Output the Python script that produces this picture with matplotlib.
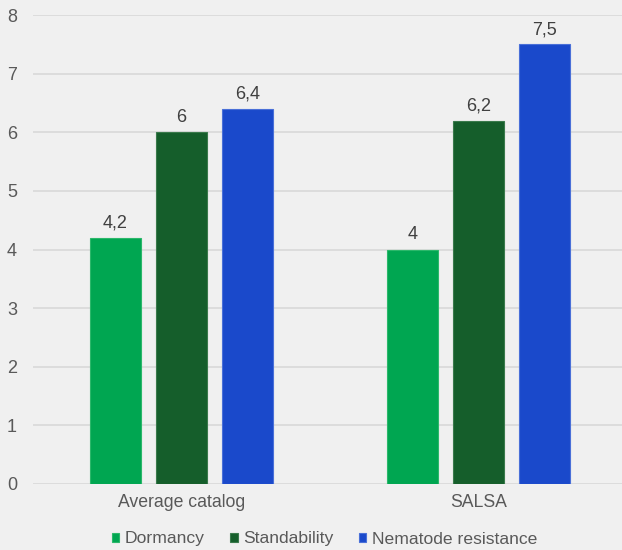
import matplotlib
matplotlib.use("Agg")
import matplotlib.pyplot as plt
import numpy as np

categories = ["Average catalog", "SALSA"]
series = ["Dormancy", "Standability", "Nematode resistance"]
dormancy = [4.2, 4.0]
standability = [6.0, 6.2]
nematode = [6.4, 7.5]
labels = [["4,2", "4"], ["6", "6,2"], ["6,4", "7,5"]]
yticks = [0, 1, 2, 3, 4, 5, 6, 7, 8]

colors = ["#00a651", "#155e2b", "#1a49cb"]
edges = ["#2bb86a", "#3a7a4c", "#4a70d8"]

plt.rcParams['font.family'] = ['Liberation Sans', 'DejaVu Sans']
bg = "#f0f0f0"
fig = plt.figure(figsize=(6.22, 5.5), dpi=100, facecolor=bg)
ax = fig.add_axes([33/622, 1-484/550, 1-33/622, (484-15)/550])
ax.set_facecolor(bg)

x = np.arange(len(categories))
w = 51/297
step = 66/297
for i, (vals, c, e) in enumerate(zip([dormancy, standability, nematode], colors, edges)):
    pos = x + (i-1)*step
    bars = ax.bar(pos, vals, width=w, color=c, edgecolor=e, linewidth=0.8, label=series[i], zorder=3)
    for b, t in zip(bars, labels[i]):
        ax.annotate(t, (b.get_x()+b.get_width()/2, b.get_height()), xytext=(0, 4.5),
                    textcoords='offset points', ha='center', va='bottom',
                    fontsize=13, color="#404040", zorder=4)

ax.set_xlim(-0.5, 1.5 - 5/297)
ax.set_ylim(0, 8)
ax.set_yticks(yticks)
ax.set_yticklabels([str(v) for v in yticks])
ax.set_xticks(x)
ax.set_xticklabels(categories)
ax.tick_params(axis='y', length=0, labelsize=13, labelcolor="#595959", pad=11.5)
ax.tick_params(axis='x', length=0, labelsize=12.7, labelcolor="#595959", pad=7.5)
ax.grid(axis='y', color="#d9d9d9", linewidth=1.2, zorder=0)
for s in ax.spines.values():
    s.set_visible(False)

leg = fig.legend(loc='center', bbox_to_anchor=(324.5/622, 1-539/550), ncol=3, frameon=False,
                 fontsize=12.6, handlelength=0.43, handleheight=0.43, handletextpad=0.32,
                 columnspacing=1.45, labelcolor="#595959", borderpad=0)
fig.savefig("out.png", dpi=100, facecolor=bg)
